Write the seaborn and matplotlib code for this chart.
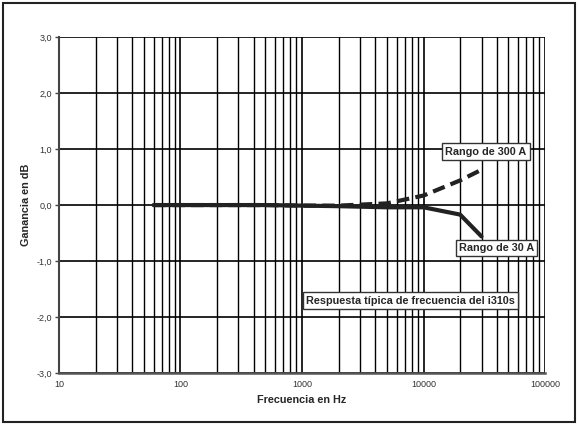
import numpy as np
import pandas as pd
import matplotlib
matplotlib.use("Agg")
import matplotlib.pyplot as plt
import seaborn as sns
from matplotlib.ticker import FixedLocator, FuncFormatter, LogLocator, NullFormatter
from matplotlib.patches import Rectangle

# Werte
frecuencia = [60, 100, 200, 500, 1000, 2000, 5000, 10000, 20000, 30000]
rango_30a = [0.0, 0.0, 0.0, 0.0, -0.01, -0.02, -0.04, -0.04, -0.17, -0.56]
rango_300a = [0.0, 0.0, 0.0, 0.0, -0.01, -0.01, 0.03, 0.17, 0.44, 0.63]

y_ticks = [-3.0, -2.0, -1.0, 0.0, 1.0, 2.0, 3.0]
x_ticks = [10, 100, 1000, 10000, 100000]

sns.set_theme(style="white")
plt.rcParams['font.family'] = ['Liberation Sans', 'DejaVu Sans']

df = pd.DataFrame({
    "freq": frecuencia * 2,
    "gain": rango_30a + rango_300a,
    "rango": ["30 A"] * len(frecuencia) + ["300 A"] * len(frecuencia),
})

fig = plt.figure(figsize=(5.78, 4.25), dpi=100)
ax = fig.add_axes([0.102, 0.122, 0.841, 0.791])

sns.lineplot(data=df[df.rango == "30 A"], x="freq", y="gain", ax=ax,
             color="#222222", lw=3, estimator=None, sort=False)
sns.lineplot(data=df[df.rango == "300 A"], x="freq", y="gain", ax=ax,
             color="#222222", lw=3, estimator=None, sort=False,
             linestyle=(0, (3, 1.5)))

ax.set_xscale("log")
ax.set_xlim(10, 100000)
ax.set_ylim(-3, 3)

# Gitter: vertikal alle Dekadenteile, horizontal nur ganze dB
ax.xaxis.set_major_locator(FixedLocator(x_ticks))
ax.xaxis.set_major_formatter(FuncFormatter(lambda v, p: f"{int(v)}"))
ax.xaxis.set_minor_locator(LogLocator(base=10, subs=np.arange(2, 10)))
ax.xaxis.set_minor_formatter(NullFormatter())
ax.yaxis.set_major_locator(FixedLocator(y_ticks))
ax.yaxis.set_major_formatter(FuncFormatter(lambda v, p: f"{v:.1f}".replace(".", ",")))

ax.grid(True, which="major", axis="both", color="black", lw=1.2)
ax.grid(True, which="minor", axis="x", color="black", lw=1.0)
ax.set_axisbelow(True)

for side in ["top", "right"]:
    ax.spines[side].set_visible(False)
ax.spines["left"].set_color("#444444")
ax.spines["bottom"].set_color("#555555")
ax.spines["left"].set_linewidth(1.5)
ax.spines["bottom"].set_linewidth(1.8)

ax.tick_params(axis="both", which="major", labelsize=6.5, labelcolor="#333333")
ax.tick_params(axis="y", left=True, length=3, width=1, color="#444444", pad=2)
ax.tick_params(axis="x", bottom=False, length=0, pad=5)
ax.tick_params(axis="x", which="minor", bottom=False, length=0)

ax.set_xlabel("Frecuencia en Hz", fontsize=7.8, fontweight="bold", labelpad=4)
ax.set_ylabel("Ganancia en dB", fontsize=7.8, fontweight="bold", labelpad=4)

box = dict(boxstyle="square,pad=0.3", facecolor="white", edgecolor="#333333", lw=1)
ax.text(0.878, 0.659, "Rango de 300 A", transform=ax.transAxes, ha="center", va="center",
        fontsize=7.8, fontweight="bold", bbox=box, zorder=5)
ax.text(0.900, 0.372, "Rango de 30 A", transform=ax.transAxes, ha="center", va="center",
        fontsize=7.8, fontweight="bold", bbox=box, zorder=5)
ax.text(0.723, 0.216, "Respuesta típica de frecuencia del i310s", transform=ax.transAxes,
        ha="center", va="center", fontsize=7.8, fontweight="bold", bbox=box, zorder=5)

# Rahmen um die ganze Abbildung
fig.patches.append(Rectangle((0.006, 0.006), 0.988, 0.988, transform=fig.transFigure,
                             fill=False, edgecolor="#222222", lw=1.5))

fig.savefig("out.png", dpi=100)
